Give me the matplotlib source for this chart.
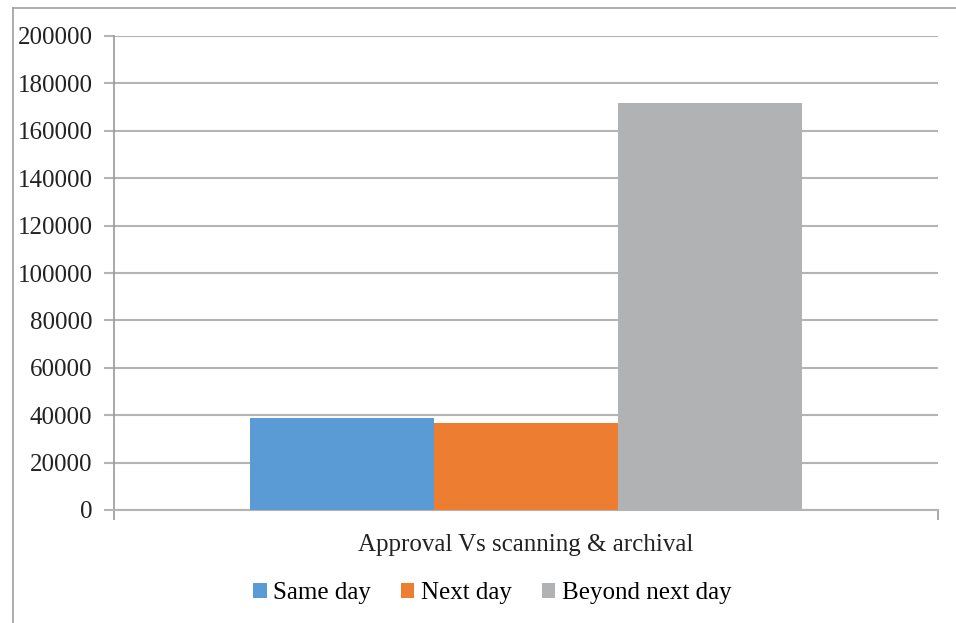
import matplotlib.pyplot as plt
from matplotlib.lines import Line2D

# Processing delay counts, one category with three series
category = "Approval Vs scanning & archival"
series_names = ["Same day", "Next day", "Beyond next day"]
series_values = [38800, 36700, 171700]
series_colors = ["#5b9bd5", "#ed7d31", "#b1b2b4"]
y_ticks = [0, 20000, 40000, 60000, 80000, 100000, 120000, 140000, 160000, 180000, 200000]

plt.rcParams['font.family'] = ['Liberation Serif', 'DejaVu Serif']

W, H = 956, 623
fig = plt.figure(figsize=(W / 100, H / 100), dpi=100)
ax = fig.add_axes([114 / W, 1 - 510 / H, (938 - 114) / W, (510 - 36) / H])

grid_color = "#b4b4b4"
bar_w = 0.223
offsets = [-bar_w, 0, bar_w]
for name, val, col, off in zip(series_names, series_values, series_colors, offsets):
    ax.bar(off, val, width=bar_w, color=col, label=name, zorder=3)

ax.set_xlim(-0.5, 0.5)
ax.set_ylim(0, 200000)
ax.set_yticks(y_ticks)
ax.set_yticklabels([str(v) for v in y_ticks], fontsize=18, color="#222222")
ax.yaxis.grid(True, color=grid_color, linewidth=1.5, zorder=0)

# category boundary ticks at both ends, label in the middle
ax.set_xticks([-0.5, 0.5])
ax.set_xticklabels(["", ""])
ax.set_xticks([0], minor=True)
ax.set_xticklabels([category], minor=True, fontsize=18, color="#222222")
ax.tick_params(axis='x', which='major', length=7, color="#999999", width=1.2)
ax.tick_params(axis='x', which='minor', length=0, pad=17)
ax.tick_params(axis='y', length=7, color=grid_color, width=1.5, pad=8.5)

for side in ['top', 'right']:
    ax.spines[side].set_visible(False)
ax.spines['left'].set_color("#999999")
ax.spines['left'].set_linewidth(1.2)
ax.spines['bottom'].set_color(grid_color)
ax.spines['bottom'].set_linewidth(1.5)

ax.legend(loc='center', bbox_to_anchor=(492 / W, 1 - 593 / H), bbox_transform=fig.transFigure,
          ncol=3, frameon=False, fontsize=18, handlelength=0.55, handleheight=0.55,
          handletextpad=0.25, columnspacing=1.2, borderpad=0)

# outer chart frame (top and left edges)
fig.add_artist(Line2D([13 / W, 1], [1 - 8 / H, 1 - 8 / H], transform=fig.transFigure,
                      color="#a0a0a0", linewidth=1.2))
fig.add_artist(Line2D([13 / W, 13 / W], [0, 1 - 8 / H], transform=fig.transFigure,
                      color="#a0a0a0", linewidth=1.2))

fig.savefig("out.png", dpi=100)
